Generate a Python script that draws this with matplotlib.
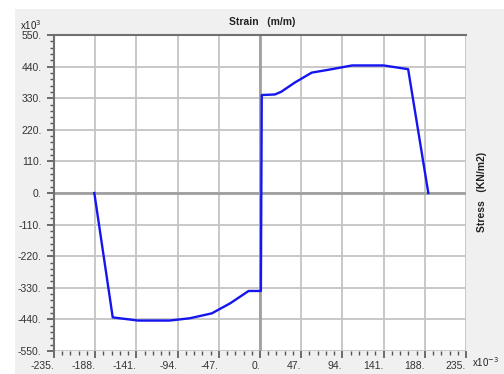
import numpy as np
import matplotlib.pyplot as plt
from matplotlib.patches import Rectangle
from matplotlib.ticker import MultipleLocator, FuncFormatter

# stress-strain loop, strain in 1e-3 m/m, stress in 1e3 KN/m2
strain = [-189, -168, -139, -103, -80, -55, -34, -13, 1,
          2, 17, 24, 40, 59, 80, 105, 141, 169, 192]
stress = [0, -433, -444, -444, -436, -419, -384, -341, -341,
          341, 343, 352, 385, 419, 430, 444, 444, 431, 0]

x_ticks = np.arange(-235, 236, 47)
y_ticks = np.arange(-550, 551, 110)

plt.rcParams['font.family'] = ['Liberation Sans', 'DejaVu Sans']

fig = plt.figure(figsize=(5.04, 3.74), dpi=100, facecolor='white')
fig.patches.append(Rectangle((15 / 504, 0), 1, 1 - 9 / 374, transform=fig.transFigure,
                             facecolor='#f0f0f0', edgecolor='none', zorder=-10))

ax = fig.add_axes([54 / 504, 1 - 351 / 374, 412 / 504, 316 / 374])
ax.set_zorder(1)
ax.set_facecolor('white')
ax.set_xlim(-235, 235)
ax.set_ylim(-550, 550)

ax.set_xticks(x_ticks)
ax.set_yticks(y_ticks)
ax.xaxis.set_minor_locator(MultipleLocator(9.4))
ax.yaxis.set_minor_locator(MultipleLocator(22))
fmt = FuncFormatter(lambda v, p: f"{v:.0f}.")
ax.xaxis.set_major_formatter(fmt)
ax.yaxis.set_major_formatter(fmt)

ax.grid(True, which='major', color='#c4c4c4', linewidth=1.3)
ax.axhline(0, color='#a0a0a0', linewidth=2)
ax.axvline(0, color='#a0a0a0', linewidth=2)

ax.plot(strain, stress, color='#1515f0', linewidth=1.7, zorder=5)

for side in ['right', 'bottom']:
    ax.spines[side].set_visible(False)
for side in ['left', 'top']:
    ax.spines[side].set_color('#707070')
    ax.spines[side].set_linewidth(1.5)

ax.tick_params(axis='both', which='major', direction='out', length=5, width=1.2,
               colors='#555555', labelcolor='#333333', labelsize=7.5)
ax.tick_params(axis='x', which='major', pad=2)
ax.tick_params(axis='y', which='major', pad=4)
ax.tick_params(axis='both', which='minor', direction='out', length=3, width=1,
               colors='#555555')
for lbl in ax.get_xticklabels():
    lbl.set_horizontalalignment('right')

fig.text(262 / 504, 1 - 22 / 374, 'Strain   (m/m)', ha='center', va='center',
         fontsize=7.5, fontweight='bold', color='#222222')
fig.text(482 / 504, 1 - 192 / 374, 'Stress   (KN/m2)', ha='center', va='center',
         rotation=90, fontsize=7.5, fontweight='bold', color='#222222')
fig.text(20 / 504, 1 - 25 / 374, r'x10$^3$', ha='left', va='center',
         fontsize=7, color='#222222')
fig.text(472 / 504, 1 - 362 / 374, r'x10$^{-3}$', ha='left', va='center',
         fontsize=7, color='#222222')

fig.savefig('out.png', dpi=100, facecolor=fig.get_facecolor())
